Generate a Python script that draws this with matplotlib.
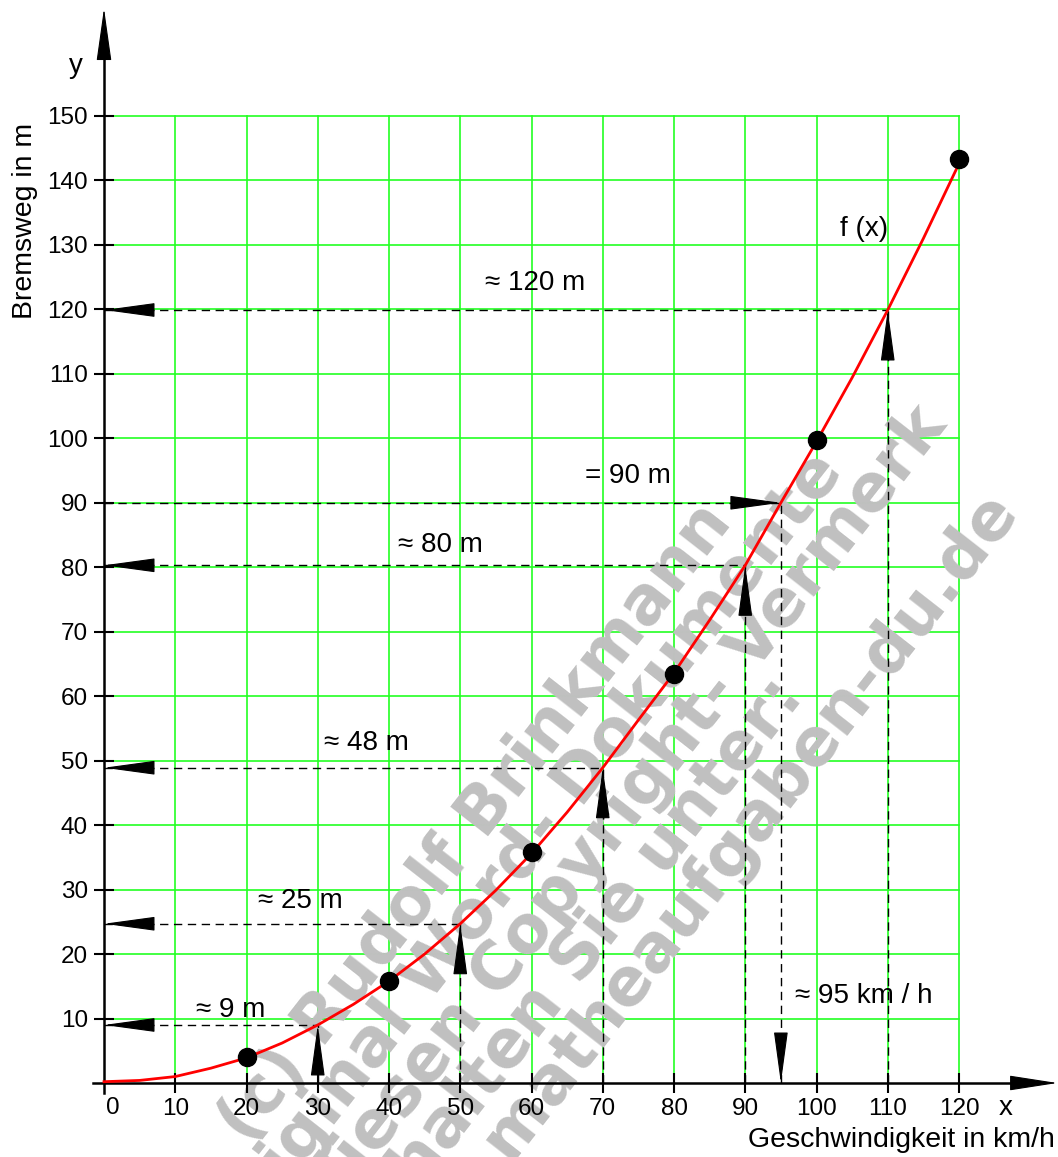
import math
import matplotlib.pyplot as plt

plt.rcParams['font.family'] = ['Liberation Sans', 'DejaVu Sans']

# measured points (speed in km/h, braking distance in m)
speed = [20, 40, 60, 80, 100, 120]
brake = [4.0, 15.8, 35.8, 63.5, 99.7, 143.3]

# fitted curve f(x)
curve_x = [0, 5, 10, 15, 20, 25, 30, 35, 40, 45, 50, 55, 60,
           65, 70, 75, 80, 85, 90, 95, 100, 105, 110, 115, 120]
curve_y = [0.2, 0.4, 1.0, 2.3, 3.9, 6.2, 9.0, 12.2, 15.8, 20.0, 24.7, 29.9, 35.6,
           42.0, 48.9, 56.3, 63.6, 71.8, 80.3, 90.0, 99.5, 109.4, 119.9, 131.0, 142.6]

# read-offs: speed -> distance
read_x = [30, 50, 70, 90, 110]
read_y = [9.0, 24.7, 48.9, 80.3, 119.9]
read_labels = ['≈ 9 m', '≈ 25 m', '≈ 48 m', '≈ 80 m', '≈ 120 m']

# inverse read-off: distance -> speed
inv_y = 90
inv_x = 95

x_ticks = [10, 20, 30, 40, 50, 60, 70, 80, 90, 100, 110, 120]
y_ticks = [10, 20, 30, 40, 50, 60, 70, 80, 90, 100, 110, 120, 130, 140, 150]

watermark = ['(c) Rudolf Brinkmann',
             'Original Word- Dokumente',
             'ohne diesen Copyright- Vermerk',
             'erhalten Sie unter:',
             'www.matheaufgaben-du.de']

W, H = 1058, 1157
fig = plt.figure(figsize=(W / 100, H / 100), dpi=100)
ax = fig.add_axes([0, 0, 1, 1])
ax.set_xlim(-104 / 7.125, (W - 104) / 7.125)
ax.set_ylim(-(H - 1083) / 6.447, 1083 / 6.447)
ax.set_axisbelow(False)

# axes through the origin
for side in ['top', 'right']:
    ax.spines[side].set_visible(False)
ax.spines['left'].set_position(('data', 0))
ax.spines['bottom'].set_position(('data', 0))
ax.spines['left'].set_bounds(-1.6, 160)
ax.spines['bottom'].set_bounds(-1.6, 128)
ax.spines['left'].set_linewidth(1.8)
ax.spines['bottom'].set_linewidth(1.8)

ax.set_xticks(x_ticks)
ax.set_yticks(y_ticks)
ax.set_xticklabels([str(v) for v in x_ticks])
ax.set_yticklabels([str(v) for v in y_ticks])
ax.tick_params(direction='inout', length=14, width=1.5, labelsize=17.5)
ax.tick_params(axis='x', pad=3.8)
ax.tick_params(axis='y', pad=4.5)
ax.text(1.3, -2.2, '0', ha='center', va='top', fontsize=17.5, zorder=7)

# green grid
grid_c = '#22ff22'
for xv in x_ticks:
    ax.plot([xv, xv], [0, y_ticks[-1]], color=grid_c, lw=1.2, zorder=1)
for yv in y_ticks:
    ax.plot([0, x_ticks[-1]], [yv, yv], color=grid_c, lw=1.2, zorder=1)

# watermark, rotated lines (pixel frame: along-line U, across-line V)
ang = 52
ca, sa = math.cos(math.radians(ang)), math.sin(math.radians(ang))
wm_end = [40, 148, 249, -54, 224]
wm_base = [900, 955, 1009, 1064, 1119]
for txt, uu, vv in zip(watermark, wm_end, wm_base):
    px = uu * ca + vv * sa
    py = -uu * sa + vv * ca
    ax.text(px / W, 1 - py / H, txt, transform=fig.transFigure, rotation=ang,
            rotation_mode='anchor', ha='right', va='baseline', fontsize=47.5,
            family='DejaVu Sans', fontweight='bold', color='#c0c0c0', zorder=2)


def head(x, y, dx, dy, hl=3.3, hw=0.45):
    ax.annotate('', xy=(x, y), xytext=(dx, dy), textcoords='offset points',
                arrowprops=dict(arrowstyle=f'-|>,head_length={hl},head_width={hw}',
                                mutation_scale=10, fc='k', ec='k', lw=0.8,
                                shrinkA=0, shrinkB=0), zorder=6)


dash = dict(color='k', lw=1.0, ls=(0, (6, 4)), zorder=3)
for xv, yv in zip(read_x, read_y):
    ax.plot([0, xv], [yv, yv], **dash)
    ax.plot([xv, xv], [0, yv], **dash)
    head(0, yv, 33, 0)
    head(xv, yv, 0, -33)

ax.plot([0, inv_x], [inv_y, inv_y], **dash)
ax.plot([inv_x, inv_x], [0, inv_y], **dash)
head(inv_x, inv_y, -33, 0)
head(inv_x, 0, 0, 33)

# axis arrows
head(0, 166.7, 0, -34, hl=3.4, hw=0.48)
head(133.8, 0, -31, 0, hl=3.1, hw=0.48)

# curve and points
ax.plot(curve_x, curve_y, color='red', lw=2, zorder=4)
ax.plot(speed, brake, 'o', color='k', ms=13, zorder=5)

# labels
fs = 20
lab_pos = [(17.8, 11.3), (27.6, 28.2), (36.8, 52.7), (47.2, 83.4), (60.5, 124.1)]
for (tx, ty), s in zip(lab_pos, read_labels):
    ax.text(tx, ty, s, ha='center', va='center', fontsize=fs, zorder=7)
ax.text(73.5, 94.2, '= %d m' % inv_y, ha='center', va='center', fontsize=fs, zorder=7)
ax.text(106.7, 13.5, '≈ %d km / h' % inv_x, ha='center', va='center', fontsize=fs, zorder=7)
ax.text(106.7, 132.5, 'f (x)', ha='center', va='center', fontsize=fs, zorder=7)

ax.text(-4.0, 157.8, 'y', ha='center', va='center', fontsize=fs)
ax.text(126.5, -3.9, 'x', ha='center', va='center', fontsize=fs)
fig.text(25 / W, 1 - 221 / H, 'Bremsweg in m', rotation=90, ha='center', va='center', fontsize=20.5)
fig.text(1055 / W, 1 - 1140 / H, 'Geschwindigkeit in km/h', ha='right', va='center', fontsize=20.5)

fig.savefig('out.png', dpi=100)
